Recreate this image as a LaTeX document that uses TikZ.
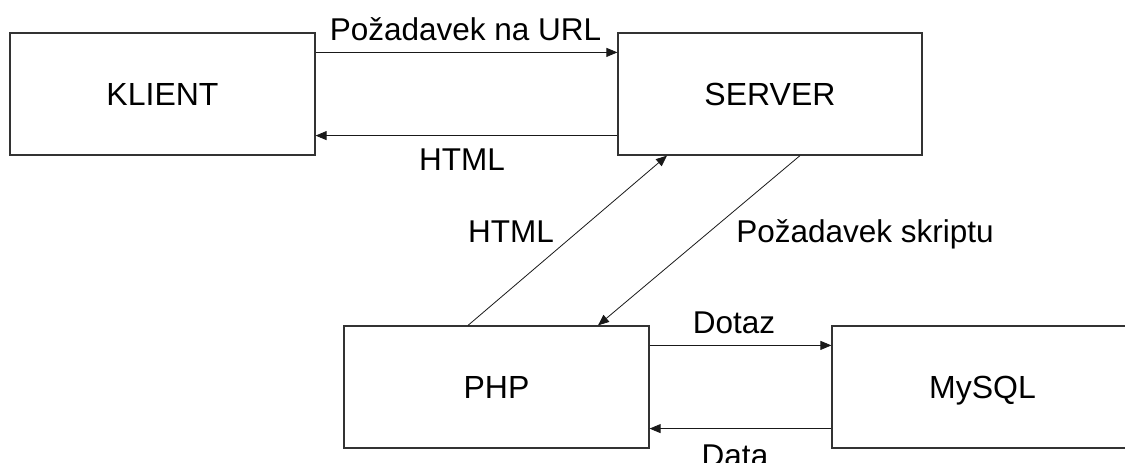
\documentclass[tikz,border=0pt]{standalone}
\usepackage{fontspec}
\setmainfont{Liberation Sans}
\usetikzlibrary{arrows.meta}
\begin{document}
\begin{tikzpicture}[x=1pt,y=-1pt,
  box/.style={draw=black!80,line width=1.2pt,minimum height=122pt,inner sep=0pt,text height=23pt,text depth=0pt,font=\fontsize{32}{38}\selectfont},
  arr/.style={draw=black!90,line width=0.8pt,-{Triangle[length=11pt,width=9pt]}},
  lbl/.style={anchor=base,inner sep=0pt,font=\fontsize{31.5}{38}\selectfont}]
\useasboundingbox (0,0) rectangle (1125,463);
\begin{scope}
\clip (0,0) rectangle (1125,463);
\node[box,minimum width=305pt] (klient) at (162.5,94) {KLIENT};
\node[box,minimum width=304pt] (server) at (770,94) {SERVER};
\node[box,minimum width=305pt] (php) at (496.5,387) {PHP};
\node[box,minimum width=301pt] (mysql) at (982.5,387) {MySQL};
\end{scope}
\draw[arr] ([yshift=-20pt]klient.north east) -- ([yshift=-20pt]server.north west);
\draw[arr] ([yshift=20pt]server.south west) -- ([yshift=20pt]klient.south east);
\draw[arr] ([xshift=-28.5pt]php.north) -- ([xshift=-103pt]server.south);
\draw[arr] ([xshift=30pt]server.south) -- ([xshift=101.5pt]php.north);
\draw[arr] ([yshift=-20pt]php.north east) -- ([yshift=-20pt]mysql.north west);
\draw[arr] ([yshift=20pt]mysql.south west) -- ([yshift=20pt]php.south east);
\node[lbl] (l1) at (465.5,40) {Požadavek na URL};
\node[lbl] (l2) at (462,170) {HTML};
\node[lbl] (l3) at (511,242) {HTML};
\node[lbl] (l4) at (865,242) {Požadavek skriptu};
\node[lbl] (l5) at (734,333) {Dotaz};
\node[lbl] (l6) at (735,466) {Data};
\end{tikzpicture}
\end{document}
